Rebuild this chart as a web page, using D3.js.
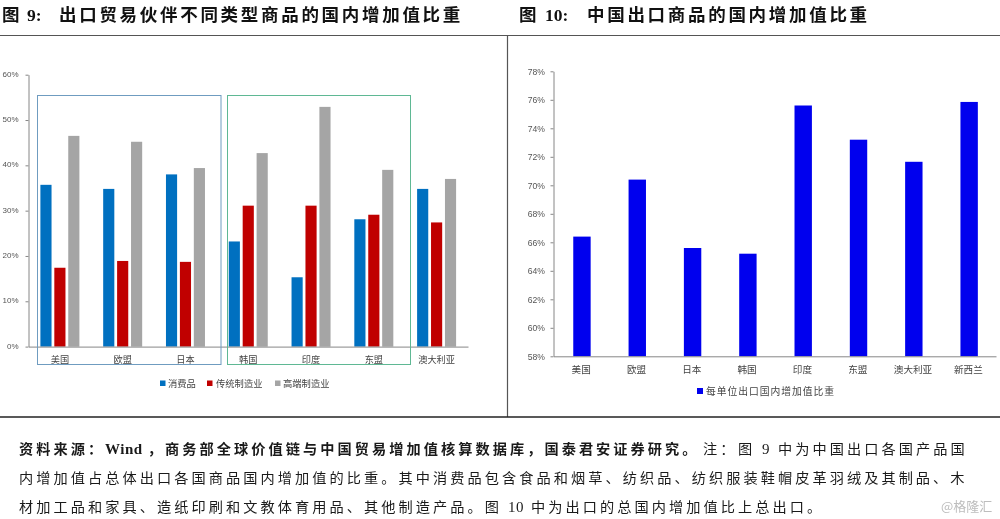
<!DOCTYPE html>
<html><head><meta charset="utf-8">
<script src="https://cdn.jsdelivr.net/npm/d3@7/dist/d3.min.js"></script>
<style>
html,body{margin:0;padding:0;background:#fff;overflow:hidden}
svg{display:block;filter:blur(0.35px)}
text{font-family:"Noto Sans CJK SC","Noto Sans",sans-serif}
.num{font-family:"Liberation Sans",Arial,sans-serif}
</style></head><body>
<svg id="c" width="1000" height="519"></svg>
<script>
const categoriesLeft = ["美国","欧盟","日本","韩国","印度","东盟","澳大利亚"];
const seriesNames = ["消费品","传统制造业","高端制造业"];
const consumer = [35.7,34.8,38.0,23.2,15.3,28.1,34.8];
const traditional = [17.4,18.9,18.7,31.1,31.1,29.1,27.4];
const highEnd = [46.5,45.2,39.4,42.7,52.9,39.0,37.0];
const seriesColors = ["#0070c0","#c00000","#a5a5a5"];
const categoriesRight = ["美国","欧盟","日本","韩国","印度","东盟","澳大利亚","新西兰"];
const domesticShare = [66.4,70.4,65.6,65.2,75.6,73.2,71.65,75.85];
const rightLegend = "每单位出口国内增加值比重";
const titleLeft = "出口贸易伙伴不同类型商品的国内增加值比重";
const titleRight = "中国出口商品的国内增加值比重";
const noteSource = "资料来源：";
const noteWind = "Wind";
const noteBold = "，商务部全球价值链与中国贸易增加值核算数据库，国泰君安证券研究。";
const noteLine1a = "注：";
const noteLine1b = "图";
const noteLine1c = "中为中国出口各国产品国";
const noteLine2 = "内增加值占总体出口各国商品国内增加值的比重。其中消费品包含食品和烟草、纺织品、纺织服装鞋帽皮革羽绒及其制品、木";
const noteLine3a = "材加工品和家具、造纸印刷和文教体育用品、其他制造产品。图";
const noteLine3b = "中为出口的总国内增加值比上总出口。";

const svg = d3.select("#c");
const frame = "#555";
[[0,35.5,1000,35.5],[507.5,35.5,507.5,417],[0,417,1000,417]].forEach(l=>
  svg.append("line").attr("x1",l[0]).attr("y1",l[1]).attr("x2",l[2]).attr("y2",l[3])
     .attr("stroke",l[1]===417?"#222":frame).attr("stroke-width",l[1]===417?1.3:1.2));

function title(x, label, xNum, num, xText, txt){
  const t=(x,s,sp)=>svg.append("text").attr("x",x).attr("y",21).attr("fill","#111")
     .attr("font-weight",700).attr("font-size","17.5px")
     .style("letter-spacing",(sp||0)+"px").text(s);
  t(x,label);
  t(xNum,num).style("font-family","'Liberation Serif',serif");
  t(xText,txt,2.7);
}
title(2,"图",27,"9:",59,titleLeft);
title(519,"图",545,"10:",587,titleRight);

/* left chart */
const xL = d3.scaleBand().domain(categoriesLeft).range([28.5,468]);
const yL = d3.scaleLinear().domain([0,60]).range([346.6,74.7]);
const inner = d3.scaleBand().domain(seriesNames).range([-19.5,19.5]).paddingInner(0.2).paddingOuter(0);
const gL = svg.append("g");
[consumer,traditional,highEnd].forEach((vals,i)=>{
  gL.append("g").selectAll("rect").data(vals).join("rect")
    .attr("x",(d,k)=>xL(categoriesLeft[k])+xL.bandwidth()/2+inner(seriesNames[i]))
    .attr("width",inner.bandwidth())
    .attr("y",d=>yL(d)).attr("height",d=>yL(0)-yL(d))
    .attr("fill",seriesColors[i]);
});
const axL = svg.append("g").attr("transform","translate(28.5,0)")
  .call(d3.axisLeft(yL).tickValues(d3.range(0,61,10)).tickFormat(d=>d+"%").tickSize(3).tickSizeOuter(0));
axL.selectAll("path,line").attr("stroke","#868686");
axL.selectAll("text").attr("class","num").attr("fill","#555").attr("font-size","8px").attr("x",-10).attr("dy","0.2em");
const axLx = svg.append("g").attr("transform","translate(0,346.6)")
  .call(d3.axisBottom(xL).tickSize(0).tickSizeOuter(0));
axLx.select("path").attr("stroke","#868686");
axLx.selectAll("text").attr("fill","#444").attr("font-size","9.2px").attr("y",13).attr("dy","0.32em");

svg.append("rect").attr("x",37.5).attr("y",95.5).attr("width",183.5).attr("height",269).attr("fill","none").attr("stroke","#6f9cc0");
svg.append("rect").attr("x",227.5).attr("y",95.5).attr("width",183).attr("height",269).attr("fill","none").attr("stroke","#5fb894");

/* left legend */
const lx=[160,207,275], ltx=[168,216,283];
seriesNames.forEach((n,i)=>{
  svg.append("rect").attr("x",lx[i]).attr("y",380.5).attr("width",5.5).attr("height",5.5).attr("fill",seriesColors[i]);
  svg.append("text").attr("x",ltx[i]).attr("y",383.3).attr("dy","0.35em").attr("fill","#444")
    .attr("font-size","9.3px").text(n);
});

/* right chart */
const xR = d3.scaleBand().domain(categoriesRight).range([553.5,996]);
const yR = d3.scaleLinear().domain([58,78]).range([356.3,71.3]);
svg.append("g").selectAll("rect").data(domesticShare).join("rect")
  .attr("x",(d,i)=>xR(categoriesRight[i])+xR.bandwidth()/2-8.7+0.8)
  .attr("width",17.4).attr("y",d=>yR(d)).attr("height",d=>yR(58)-yR(d)).attr("fill","#0000ee");
const axR = svg.append("g").attr("transform","translate(553.5,0)")
  .call(d3.axisLeft(yR).tickValues(d3.range(58,79,2)).tickFormat(d=>d+"%").tickSize(3).tickSizeOuter(0));
axR.selectAll("path,line").attr("stroke","#868686");
axR.selectAll("text").attr("class","num").attr("fill","#555").attr("font-size","8.6px").attr("x",-8.5);
const axRx = svg.append("g").attr("transform","translate(0,356.3)")
  .call(d3.axisBottom(xR).tickSize(0).tickSizeOuter(0));
axRx.select("path").attr("stroke","#868686");
axRx.selectAll("text").attr("fill","#444").attr("font-size","9.6px").attr("y",13.5).attr("dy","0.32em");
svg.append("rect").attr("x",697).attr("y",388).attr("width",6).attr("height",6).attr("fill","#0000ee");
svg.append("text").attr("x",706).attr("y",391.3).attr("dy","0.35em").attr("fill","#444")
  .attr("font-size","9.8px").style("letter-spacing","0.95px").text(rightLegend);

/* footnote */
const note=(x,y,s,w,serif)=>{
  const e=svg.append("text").attr("x",x).attr("y",y).attr("fill","#1a1a1a")
    .attr("font-size",serif?"15px":"14.2px").attr("font-weight",w)
    .style("letter-spacing",serif?"0.5px":"3.06px").text(s);
  if(serif) e.style("font-family","'Liberation Serif',serif");
};
note(19,454,noteSource,700);
note(105,454,noteWind,700,true);
note(147.7,454,noteBold,700);
note(703,454,noteLine1a,400);
note(738,454,noteLine1b,400);
note(762,454,"9",400,true);
note(778,454,noteLine1c,400);
note(19,482.5,noteLine2,400);
note(19,511.5,noteLine3a,400);
note(508,511.5,"10",400,true);
note(531,511.5,noteLine3b,400);
svg.append("text").attr("x",941).attr("y",511).attr("fill","#bdbdbd").attr("font-size","13px").text("@格隆汇");
</script>
</body></html>
